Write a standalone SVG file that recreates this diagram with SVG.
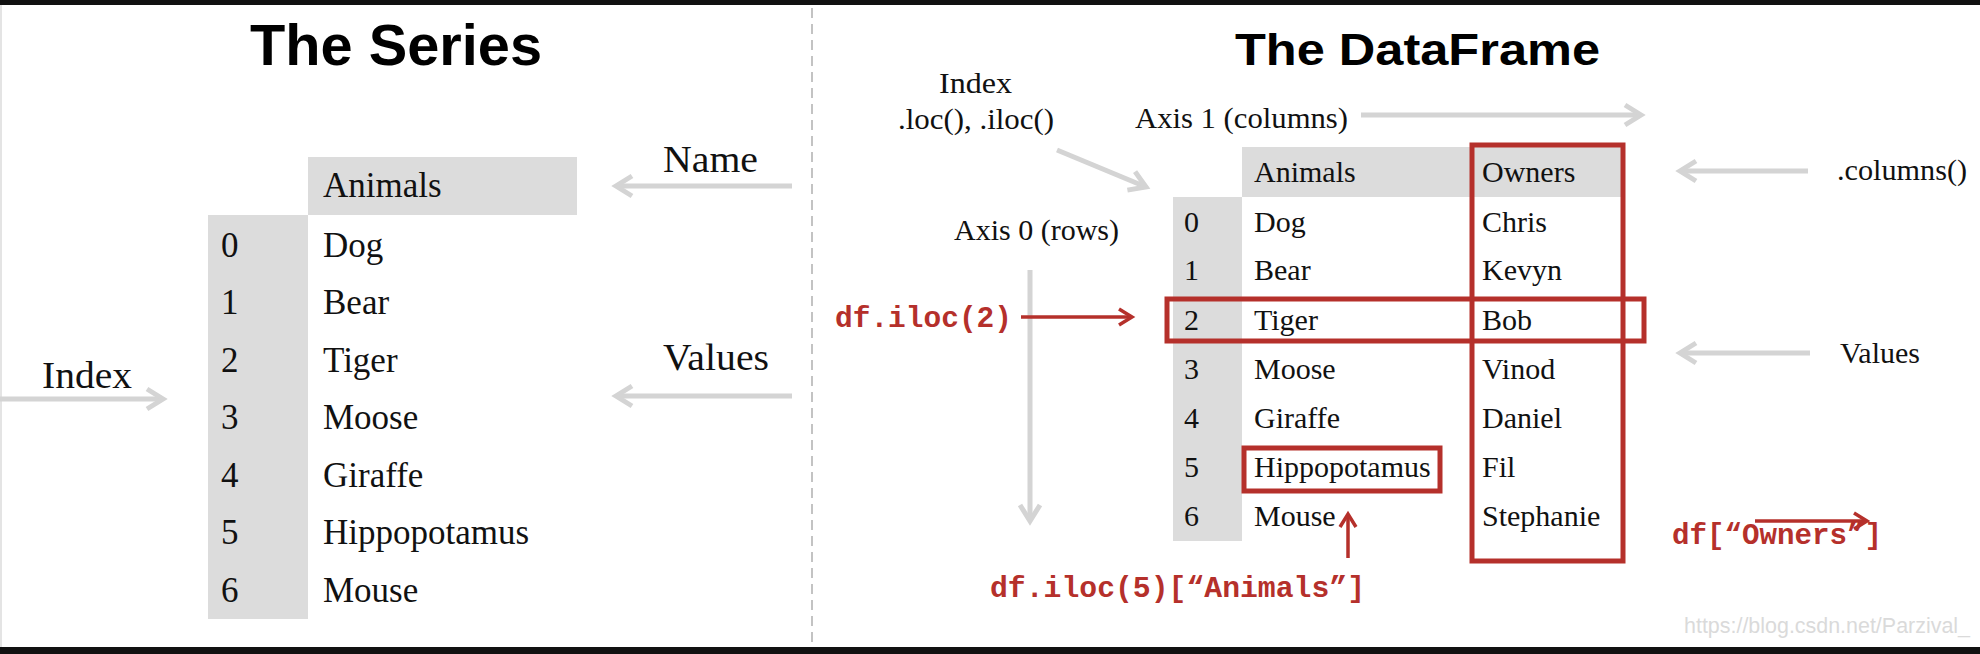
<svg xmlns="http://www.w3.org/2000/svg" width="1980" height="654" viewBox="0 0 1980 654">
<style>
.serif{font-family:"Liberation Serif","Times New Roman",serif;fill:#111}
.t35{font-size:35px}
.t30{font-size:30px}
.t29{font-size:29px}
.lbl{font-size:38px}
.title{font-family:"Liberation Sans",Arial,sans-serif;font-weight:bold;fill:#000}
.code{font-family:"Liberation Mono","Courier New",monospace;font-weight:bold;font-size:30px;fill:#b5302b}
.cell{fill:#dcdcdc}
.box{fill:none;stroke:#b5302b;stroke-width:5}
.garrow{fill:none;stroke:#d4d4d4;stroke-width:5}
.rarrow{fill:none;stroke:#b5302b;stroke-width:3.5}
</style>
<defs>
<marker id="ga" markerUnits="userSpaceOnUse" markerWidth="26" markerHeight="26" refX="19" refY="13" orient="auto">
<path d="M3,3 L19,13 L3,23" fill="none" stroke="#d4d4d4" stroke-width="5"/>
</marker>
<marker id="ra" markerUnits="userSpaceOnUse" markerWidth="22" markerHeight="22" refX="16" refY="11" orient="auto">
<path d="M3,3 L16,11 L3,19" fill="none" stroke="#b5302b" stroke-width="3.5"/>
</marker>
</defs>
<rect x="0" y="0" width="1980" height="654" fill="#fff"/>
<rect x="0" y="0" width="1980" height="5" fill="#111"/>
<rect x="0" y="647" width="1980" height="7" fill="#111"/>
<line x1="1" y1="5" x2="1" y2="647" stroke="#e4e4e4" stroke-width="2"/>
<line x1="812" y1="8" x2="812" y2="645" stroke="#b0b0b0" stroke-width="1.5" stroke-dasharray="10 6"/>

<g id="series-title"><text class="title" x="250" y="65" font-size="58" textLength="292" lengthAdjust="spacingAndGlyphs">The Series</text></g>

<g id="series-table">
<rect class="cell" x="308" y="157" width="269" height="58"/>
<rect class="cell" x="208" y="215" width="100" height="404"/>
<g class="serif t35">
<text x="323" y="197">Animals</text>
<text x="221" y="257">0</text><text x="323" y="257">Dog</text>
<text x="221" y="314">1</text><text x="323" y="314">Bear</text>
<text x="221" y="372">2</text><text x="323" y="372">Tiger</text>
<text x="221" y="429">3</text><text x="323" y="429">Moose</text>
<text x="221" y="487">4</text><text x="323" y="487">Giraffe</text>
<text x="221" y="544">5</text><text x="323" y="544">Hippopotamus</text>
<text x="221" y="602">6</text><text x="323" y="602">Mouse</text>
</g>
</g>

<g id="series-index-label"><text class="serif lbl" x="42" y="388" textLength="90" lengthAdjust="spacingAndGlyphs">Index</text></g>
<g id="series-name-label"><text class="serif lbl" x="663" y="172" textLength="95" lengthAdjust="spacingAndGlyphs">Name</text></g>
<g id="series-values-label"><text class="serif lbl" x="663" y="370" textLength="106" lengthAdjust="spacingAndGlyphs">Values</text></g>

<g id="df-title"><text class="title" x="1235" y="65" font-size="45" textLength="365" lengthAdjust="spacingAndGlyphs">The DataFrame</text></g>

<g id="df-table">
<rect class="cell" x="1242" y="147" width="381" height="50"/>
<rect class="cell" x="1173" y="197" width="69" height="344"/>
<g class="serif t30">
<text x="1254" y="182">Animals</text><text x="1482" y="182">Owners</text>
<text x="1184" y="232">0</text><text x="1254" y="232">Dog</text><text x="1482" y="232">Chris</text>
<text x="1184" y="280">1</text><text x="1254" y="280">Bear</text><text x="1482" y="280">Kevyn</text>
<text x="1184" y="330">2</text><text x="1254" y="330">Tiger</text><text x="1482" y="330">Bob</text>
<text x="1184" y="379">3</text><text x="1254" y="379">Moose</text><text x="1482" y="379">Vinod</text>
<text x="1184" y="428">4</text><text x="1254" y="428">Giraffe</text><text x="1482" y="428">Daniel</text>
<text x="1184" y="477">5</text><text x="1254" y="477">Hippopotamus</text><text x="1482" y="477">Fil</text>
<text x="1184" y="526">6</text><text x="1254" y="526">Mouse</text><text x="1482" y="526">Stephanie</text>
</g>
</g>

<g id="row2-box"><rect class="box" x="1167" y="299" width="477" height="42"/></g>
<g id="owners-box"><rect class="box" x="1472" y="145" width="151" height="416"/></g>
<g id="hippo-box"><rect class="box" x="1244" y="448" width="196" height="43"/></g>

<g id="df-index-label"><text class="serif t30" x="939" y="93" textLength="73" lengthAdjust="spacingAndGlyphs">Index</text><text class="serif t30" x="898" y="129" textLength="156" lengthAdjust="spacingAndGlyphs">.loc(), .iloc()</text></g>
<g id="axis1-label"><text class="serif t30" x="1135" y="128" textLength="213" lengthAdjust="spacingAndGlyphs">Axis 1 (columns)</text></g>
<g id="axis0-label"><text class="serif t30" x="954" y="240" textLength="165" lengthAdjust="spacingAndGlyphs">Axis 0 (rows)</text></g>
<g id="columns-label"><text class="serif t30" x="1837" y="180" textLength="130" lengthAdjust="spacingAndGlyphs">.columns()</text></g>
<g id="df-values-label"><text class="serif t29" x="1840" y="363" textLength="80" lengthAdjust="spacingAndGlyphs">Values</text></g>

<g id="code-iloc2"><text class="code" x="835" y="327" textLength="177" lengthAdjust="spacingAndGlyphs">df.iloc(2)</text></g>
<g id="code-iloc5"><text class="code" x="990" y="597" textLength="375" lengthAdjust="spacingAndGlyphs">df.iloc(5)[“Animals”]</text></g>
<g id="code-owners"><text class="code" x="1672" y="544" textLength="210" lengthAdjust="spacingAndGlyphs">df[“Owners”]</text></g>

<g id="connectors">
<line class="garrow" x1="0" y1="399" x2="163" y2="399" marker-end="url(#ga)"/>
<line class="garrow" x1="792" y1="186" x2="616" y2="186" marker-end="url(#ga)"/>
<line class="garrow" x1="792" y1="396" x2="616" y2="396" marker-end="url(#ga)"/>
<line class="garrow" x1="1361" y1="115" x2="1641" y2="115" marker-end="url(#ga)"/>
<line class="garrow" x1="1057" y1="150" x2="1146" y2="187" marker-end="url(#ga)"/>
<line class="garrow" x1="1030" y1="270" x2="1030" y2="521" marker-end="url(#ga)"/>
<line class="garrow" x1="1808" y1="171" x2="1680" y2="171" marker-end="url(#ga)"/>
<line class="garrow" x1="1810" y1="353" x2="1680" y2="353" marker-end="url(#ga)"/>
<line class="rarrow" x1="1021" y1="317" x2="1132" y2="317" marker-end="url(#ra)"/>
<line class="rarrow" x1="1348" y1="558" x2="1348" y2="514" marker-end="url(#ra)"/>
<line class="rarrow" x1="1755" y1="521" x2="1867" y2="521" marker-end="url(#ra)"/>
</g>

<g id="watermark"><text x="1684" y="633" font-family="'Liberation Sans',Arial,sans-serif" font-size="22" fill="#dadada" textLength="286" lengthAdjust="spacingAndGlyphs">https://blog.csdn.net/Parzival_</text></g>
</svg>
